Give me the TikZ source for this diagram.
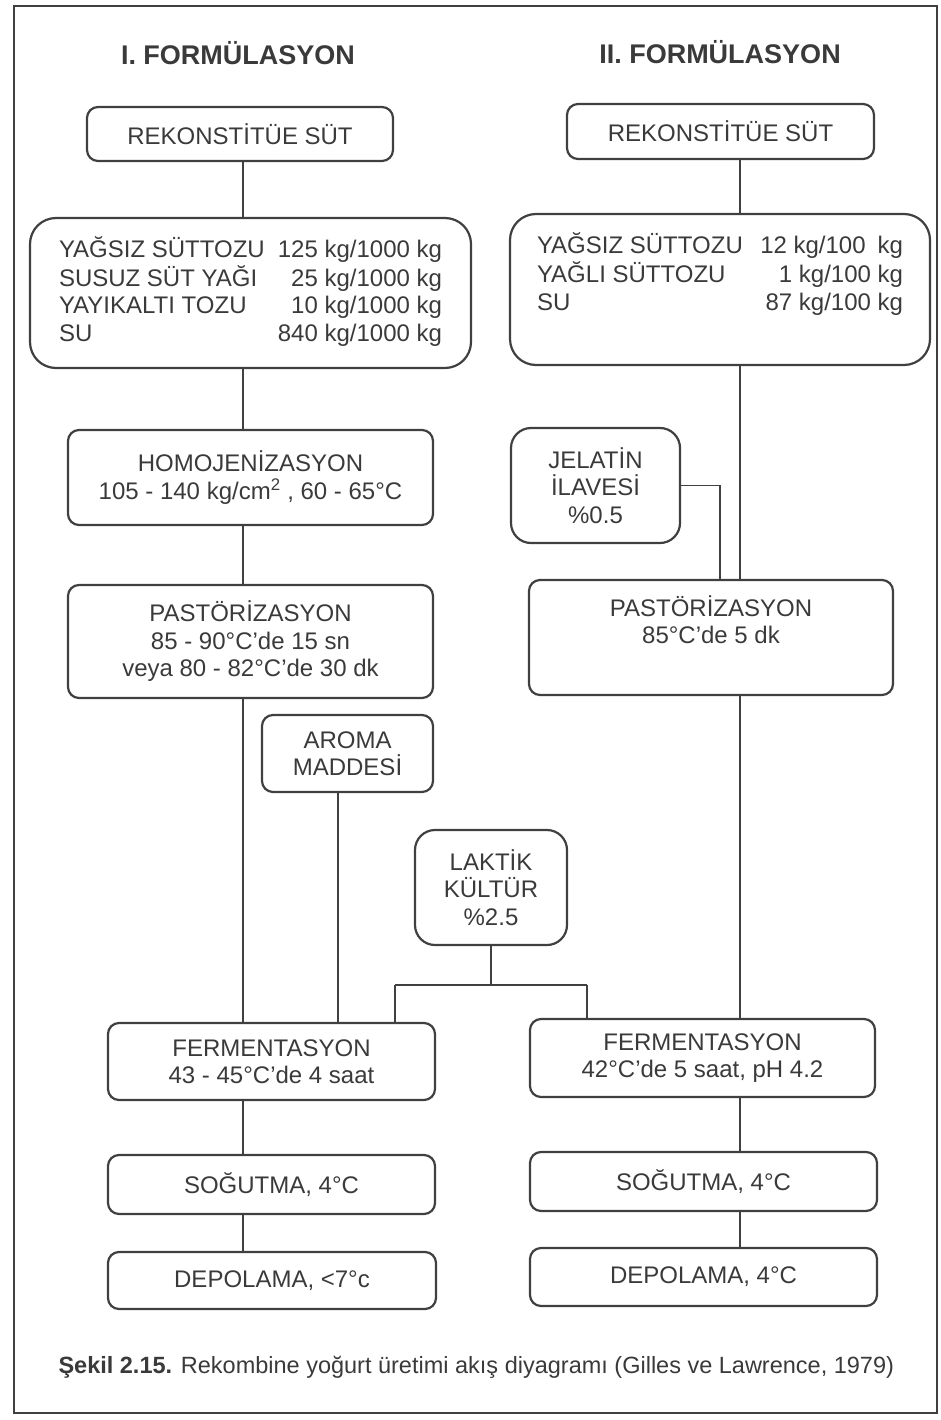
\documentclass[tikz,border=0pt]{standalone}
\usepackage{fontspec}
\setmainfont{Liberation Sans}
\usepackage{array}
\definecolor{ink}{HTML}{3A3A3A}
\definecolor{rule}{HTML}{404040}
\begin{document}
\begin{tikzpicture}[x=1pt,y=-1pt,
  every node/.style={text=ink},
  box/.style={draw=rule, line width=2.2pt, rounded corners=11pt, inner sep=0pt,
    align=center, font=\fontsize{24}{27.5}\selectfont},
  bigbox/.style={box, rounded corners=26pt},
  softbox/.style={box, rounded corners=20pt},
  link/.style={draw=rule, line width=1.8pt},
  heading/.style={font=\fontsize{27}{32}\selectfont\bfseries},
]
% page and frame
\useasboundingbox (0,0) rectangle (941,1420);
\draw[rule, line width=2pt] (14,6) rectangle (937,1413);

% column headings
\node[heading] (h1) at (238,53) {I. FORMÜLASYON};
\node[heading] (h2) at (720,52) {II. FORMÜLASYON};

% first formulation
\node[box, minimum width=306pt, minimum height=54pt] (rekL) at (240,134) {REKONSTİTÜE SÜT};
\node[bigbox, minimum width=441pt, minimum height=150pt] (ingL) at (250.5,293) {%
  \begin{tabular*}{383pt}{@{}l@{\extracolsep{\fill}}r@{}}
  YAĞSIZ SÜTTOZU & 125 kg/1000 kg\\
  SUSUZ SÜT YAĞI & 25 kg/1000 kg\\
  YAYIKALTI TOZU & 10 kg/1000 kg\\
  SU & 840 kg/1000 kg
  \end{tabular*}};
\node[box, minimum width=365pt, minimum height=95pt] (homo) at (250.5,477.5)
  {HOMOJENİZASYON\\105 - 140 kg/cm\textsuperscript{2} , 60 - 65°C};
\node[box, minimum width=365pt, minimum height=113pt] (pastL) at (250.5,641.5)
  {PASTÖRİZASYON\\85 - 90°C'de 15 sn\\veya 80 - 82°C'de 30 dk};
\node[box, minimum width=171pt, minimum height=77pt] (aroma) at (347.5,753.5)
  {AROMA\\MADDESİ};
\node[softbox, minimum width=152pt, minimum height=115pt] (lak) at (491,887.5)
  {LAKTİK\\KÜLTÜR\\\%2.5};
\node[box, minimum width=327pt, minimum height=77pt] (fermL) at (271.5,1061.5)
  {FERMENTASYON\\43 - 45°C'de 4 saat};
\node[box, minimum width=327pt, minimum height=59pt] (sogL) at (271.5,1184.5)
  {SOĞUTMA, 4°C};
\node[box, minimum width=328pt, minimum height=57pt] (depL) at (272,1280.5)
  {DEPOLAMA, <7°c};

% second formulation
\node[box, minimum width=307pt, minimum height=55pt] (rekR) at (720.5,131.5) {REKONSTİTÜE SÜT};
\node[bigbox, minimum width=420pt, minimum height=151pt] (ingR) at (720,289.5) {%
  \begin{tabular*}{366pt}{@{}l@{\extracolsep{\fill}}r@{}}
  YAĞSIZ SÜTTOZU & 12 kg/100\enspace kg\\
  YAĞLI SÜTTOZU & 1 kg/100 kg\\
  SU & 87 kg/100 kg\\
  \strut &
  \end{tabular*}};
\node[softbox, minimum width=169pt, minimum height=115pt] (jel) at (595.5,485.5)
  {JELATİN\\İLAVESİ\\\%0.5};
\node[box, minimum width=364pt, minimum height=115pt] (pastR) at (711,637.5)
  {PASTÖRİZASYON\\85°C'de 5 dk\\\strut};
\node[box, minimum width=345pt, minimum height=78pt] (fermR) at (702.5,1058)
  {FERMENTASYON\\42°C'de 5 saat, pH 4.2};
\node[box, minimum width=347pt, minimum height=59pt] (sogR) at (703.5,1181.5)
  {SOĞUTMA, 4°C};
\node[box, minimum width=347pt, minimum height=58pt] (depR) at (703.5,1277)
  {DEPOLAMA, 4°C};

% line positions
\coordinate (xL) at (243,0);
\coordinate (xR) at (740,0);
\coordinate (xA) at (338,0);
\coordinate (xJ) at (720,0);
\coordinate (xKL) at (395,0);
\coordinate (xKR) at (587,0);
\coordinate (yK) at (0,985);

% main flow, first formulation
\draw[link] (rekL.south -| xL) -- (ingL.north -| xL);
\draw[link] (ingL.south -| xL) -- (homo.north -| xL);
\draw[link] (homo.south -| xL) -- (pastL.north -| xL);
\draw[link] (pastL.south -| xL) -- (fermL.north -| xL);
\draw[link] (fermL.south -| xL) -- (sogL.north -| xL);
\draw[link] (sogL.south -| xL) -- (depL.north -| xL);

% main flow, second formulation
\draw[link] (rekR.south -| xR) -- (ingR.north -| xR);
\draw[link] (ingR.south -| xR) -- (pastR.north -| xR);
\draw[link] (pastR.south -| xR) -- (fermR.north -| xR);
\draw[link] (fermR.south -| xR) -- (sogR.north -| xR);
\draw[link] (sogR.south -| xR) -- (depR.north -| xR);

% additions
\draw[link] (jel.east) -- (jel.east -| xJ) -- (pastR.north -| xJ);
\draw[link] (aroma.south -| xA) -- (fermL.north -| xA);
\draw[link] (lak.south) -- (lak.south |- yK);
\draw[link] (xKL |- yK) -- (xKR |- yK);
\draw[link] (xKL |- yK) -- (fermL.north -| xKL);
\draw[link] (xKR |- yK) -- (fermR.north -| xKR);

% caption
\node[font=\fontsize{23.5}{28}\selectfont, anchor=west] (cap) at (55,1367)
  {\textbf{Şekil 2.15.} Rekombine yoğurt üretimi akış diyagramı (Gilles ve Lawrence, 1979)};
\end{tikzpicture}
\end{document}
